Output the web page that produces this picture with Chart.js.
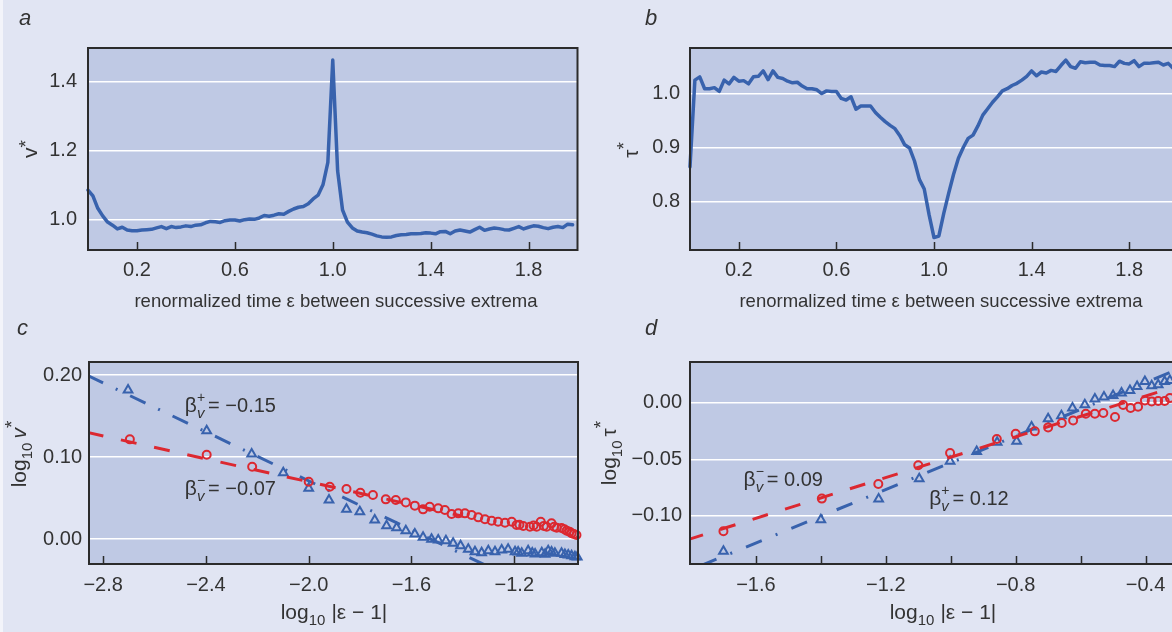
<!DOCTYPE html>
<html>
<head>
<meta charset="utf-8">
<script src="https://cdn.jsdelivr.net/npm/chart.js@4.4.1/dist/chart.umd.min.js"></script>
<style>
  html, body { margin: 0; padding: 0; background: #ffffff; }
  #page { position: relative; width: 1172px; height: 632px; overflow: hidden; background: #e1e5f3; }
  #edge { position: absolute; left: 0; top: 0; width: 3px; height: 632px; background: #f3f4fa; }
  canvas { position: absolute; }
</style>
</head>
<body>
<div id="page">
  <canvas id="chartA" width="586" height="316" style="left:0;top:0"></canvas>
  <canvas id="chartB" width="600" height="316" style="left:586px;top:0"></canvas>
  <canvas id="chartC" width="586" height="316" style="left:0;top:316px"></canvas>
  <canvas id="chartD" width="600" height="316" style="left:586px;top:316px"></canvas>
  <div id="edge"></div>
</div>
<script>
// renormalized time between successive extrema (panels a and b)
const eps = [
  0.00, 0.02, 0.04, 0.06, 0.08, 0.10, 0.12, 0.14, 0.16, 0.18,
  0.20, 0.22, 0.24, 0.26, 0.28, 0.30, 0.32, 0.34, 0.36, 0.38,
  0.40, 0.42, 0.44, 0.46, 0.48, 0.50, 0.52, 0.54, 0.56, 0.58,
  0.60, 0.62, 0.64, 0.66, 0.68, 0.70, 0.72, 0.74, 0.76, 0.78,
  0.80, 0.82, 0.84, 0.86, 0.88, 0.90, 0.92, 0.94, 0.96, 0.98,
  1.00, 1.02, 1.04, 1.06, 1.08, 1.10, 1.12, 1.14, 1.16, 1.18,
  1.20, 1.22, 1.24, 1.26, 1.28, 1.30, 1.32, 1.34, 1.36, 1.38,
  1.40, 1.42, 1.44, 1.46, 1.48, 1.50, 1.52, 1.54, 1.56, 1.58,
  1.60, 1.62, 1.64, 1.66, 1.68, 1.70, 1.72, 1.74, 1.76, 1.78,
  1.80, 1.82, 1.84, 1.86, 1.88, 1.90, 1.92, 1.94, 1.96, 1.98
];
// panel a: v*
const vStar = [
  1.085, 1.068, 1.032, 1.010, 0.992, 0.983, 0.972, 0.977, 0.969, 0.967,
  0.967, 0.969, 0.970, 0.971, 0.975, 0.979, 0.973, 0.979, 0.976, 0.978,
  0.981, 0.979, 0.983, 0.984, 0.990, 0.994, 0.993, 0.991, 0.996, 0.998,
  0.998, 0.995, 0.999, 1.001, 1.000, 1.004, 1.011, 1.009, 1.012, 1.016,
  1.015, 1.023, 1.030, 1.035, 1.037, 1.045, 1.059, 1.070, 1.100, 1.165,
  1.462, 1.140, 1.027, 0.992, 0.975, 0.966, 0.963, 0.961, 0.957, 0.952,
  0.949, 0.948, 0.949, 0.953, 0.955, 0.956, 0.958, 0.958, 0.959, 0.961,
  0.960, 0.958, 0.964, 0.965, 0.958, 0.966, 0.969, 0.966, 0.963, 0.970,
  0.977, 0.968, 0.972, 0.975, 0.973, 0.970, 0.969, 0.974, 0.979, 0.972,
  0.977, 0.981, 0.980, 0.976, 0.973, 0.977, 0.979, 0.976, 0.986, 0.984
];
// panel b: tau*
const tauStar = [
  0.864, 1.025, 1.031, 1.009, 1.009, 1.011, 1.004, 1.025, 1.018, 1.030,
  1.023, 1.024, 1.018, 1.031, 1.032, 1.042, 1.026, 1.042, 1.030, 1.028,
  1.023, 1.020, 1.021, 1.014, 1.009, 1.009, 1.007, 1.000, 1.005, 1.004,
  1.004, 0.991, 0.988, 0.994, 0.971, 0.977, 0.977, 0.977, 0.965, 0.956,
  0.948, 0.941, 0.935, 0.922, 0.905, 0.899, 0.875, 0.841, 0.823, 0.775,
  0.733, 0.736, 0.778, 0.815, 0.850, 0.880, 0.900, 0.917, 0.923, 0.940,
  0.960, 0.972, 0.984, 0.994, 1.005, 1.009, 1.015, 1.019, 1.025, 1.032,
  1.042, 1.033, 1.040, 1.038, 1.043, 1.041, 1.052, 1.062, 1.050, 1.047,
  1.059, 1.057, 1.058, 1.058, 1.053, 1.052, 1.052, 1.050, 1.060, 1.056,
  1.055, 1.061, 1.050, 1.056, 1.056, 1.057, 1.058, 1.053, 1.056, 1.047
];

// panel c: log10 v* against log10|eps-1|
const cMinusX = [-2.696, -2.397, -2.220, -2.000, -1.918, -1.853, -1.799, -1.750, -1.700, -1.661,
  -1.622, -1.587, -1.555, -1.529, -1.496, -1.470, -1.444, -1.418, -1.392, -1.366,
  -1.340, -1.314, -1.288, -1.263, -1.236, -1.210, -1.191, -1.180, -1.165, -1.139,
  -1.125, -1.113, -1.097, -1.085, -1.074, -1.055, -1.045, -1.035, -1.016, -1.005,
  -0.996, -0.985, -0.977, -0.968, -0.958];
const cMinusY = [0.1216, 0.1028, 0.0882, 0.0699, 0.0638, 0.0610, 0.0565, 0.0537, 0.0484, 0.0476,
  0.0447, 0.0407, 0.0362, 0.0394, 0.0374, 0.0354, 0.0305, 0.0313, 0.0313, 0.0293,
  0.0264, 0.0240, 0.0223, 0.0211, 0.0199, 0.0211, 0.0171, 0.0175, 0.0159, 0.0150,
  0.0165, 0.0150, 0.0211, 0.0160, 0.0150, 0.0191, 0.0150, 0.0138, 0.0134, 0.0120,
  0.0102, 0.0090, 0.0070, 0.0060, 0.0049];
const cPlusX = [-2.703, -2.397, -2.222, -2.099, -2.000, -1.921, -1.853, -1.801, -1.743, -1.697,
  -1.658, -1.622, -1.587, -1.555, -1.522, -1.496, -1.466, -1.438, -1.409, -1.379,
  -1.353, -1.327, -1.301, -1.275, -1.249, -1.224, -1.197, -1.185, -1.171, -1.146,
  -1.130, -1.119, -1.093, -1.080, -1.068, -1.055, -1.042, -1.016, -1.003, -0.990,
  -0.977, -0.964, -0.955];
const cPlusY = [0.1817, 0.1320, 0.1037, 0.0809, 0.0618, 0.0476, 0.0362, 0.0333, 0.0232, 0.0163,
  0.0138, 0.0102, 0.0061, 0.0021, -0.0004, -0.0012, -0.0020, -0.0053, -0.0081, -0.0126,
  -0.0155, -0.0167, -0.0142, -0.0155, -0.0134, -0.0126, -0.0155, -0.0160, -0.0175, -0.0142,
  -0.0170, -0.0183, -0.0167, -0.0185, -0.0142, -0.0160, -0.0175, -0.0175, -0.0190, -0.0195,
  -0.0205, -0.0216, -0.0220];
const cFitMinusX = [-2.86, -1.40];
const cFitMinusY = [0.1300, 0.0278];
const cFitPlusX = [-2.86, -1.30];
const cFitPlusY = [0.1995, -0.0338];

// panel d: log10 tau* against log10|eps-1|
const dMinusX = [-1.700, -1.397, -1.223, -1.100, -1.002, -0.858, -0.800, -0.741, -0.700, -0.658,
  -0.623, -0.584, -0.556, -0.530, -0.494, -0.469, -0.446, -0.423, -0.402, -0.381,
  -0.361, -0.341, -0.325];
const dMinusY = [-0.1136, -0.0847, -0.0718, -0.0553, -0.0444, -0.0320, -0.0274, -0.0253, -0.0218, -0.0179,
  -0.0156, -0.0097, -0.0097, -0.0091, -0.0126, -0.0020, -0.0047, -0.0035, 0.0020, 0.0012,
  0.0015, 0.0015, 0.0041];
const dPlusX = [-1.700, -1.400, -1.222, -1.097, -1.002, -0.920, -0.857, -0.797, -0.751, -0.700,
  -0.659, -0.625, -0.587, -0.556, -0.528, -0.500, -0.474, -0.448, -0.426, -0.402,
  -0.381, -0.361, -0.341, -0.325];
const dPlusY = [-0.1312, -0.1033, -0.0850, -0.0671, -0.0518, -0.0430, -0.0350, -0.0341, -0.0215, -0.0141,
  -0.0115, -0.0047, -0.0018, 0.0032, 0.0050, 0.0065, 0.0085, 0.0109, 0.0144, 0.0188,
  0.0150, 0.0159, 0.0188, 0.0197];
const dFitMinusX = [-1.81, -0.30];
const dFitMinusY = [-0.1210, 0.0149];
const dFitPlusX = [-1.77, -0.30];
const dFitPlusY = [-0.1440, 0.0296];

// ticks
const xTicksAB = [0.2, 0.6, 1.0, 1.4, 1.8];
const xLabelsAB = ['0.2', '0.6', '1.0', '1.4', '1.8'];
const yTicksA = [1.0, 1.2, 1.4];
const yLabelsA = ['1.0', '1.2', '1.4'];
const yTicksB = [0.8, 0.9, 1.0];
const yLabelsB = ['0.8', '0.9', '1.0'];
const xTicksC = [-2.8, -2.4, -2.0, -1.6, -1.2];
const xLabelsC = ['\u22122.8', '\u22122.4', '\u22122.0', '\u22121.6', '\u22121.2'];
const yTicksC = [0.0, 0.1, 0.2];
const yLabelsC = ['0.00', '0.10', '0.20'];
const xTicksD = [-1.6, -1.4, -1.2, -1.0, -0.8, -0.6, -0.4];
const xLabelsD = ['\u22121.6', '', '\u22121.2', '', '\u22120.8', '', '\u22120.4'];
const yTicksD = [-0.10, -0.05, 0.0];
const yLabelsD = ['\u22120.10', '\u22120.05', '0.00'];

const BLUE = '#3862ad';
const RED = '#dc2830';
const PLOT_BG = '#bfc9e4';
const FRAME = '#2b2b2b';
const TEXT = '#333333';
const SANS = '"Liberation Sans", Arial, sans-serif';

const pts = (xs, ys) => xs.map((x, i) => ({ x: x, y: ys[i] }));

// rich text helpers (sub/superscripts)
function fontOf(s) {
  return (s.it ? 'italic ' : '') + (s.size || 20) + 'px ' + SANS;
}
function segWidth(ctx, s) {
  if (s.stack) return Math.max(...s.stack.map(p => segWidth(ctx, p))) + (s.gap || 0);
  ctx.font = fontOf(s);
  return ctx.measureText(s.t).width + (s.gap || 0);
}
function drawSeg(ctx, s, x, y) {
  if (s.stack) { s.stack.forEach(p => drawSeg(ctx, p, x, y)); return; }
  ctx.font = fontOf(s);
  ctx.fillText(s.t, x, y + (s.dy || 0));
}
function drawRich(ctx, segs, x, y, align) {
  const w = segs.map(s => segWidth(ctx, s));
  const total = w.reduce((a, b) => a + b, 0);
  let cx = align === 'center' ? x - total / 2 : x;
  segs.forEach((s, i) => { drawSeg(ctx, s, cx, y); cx += w[i]; });
}

const beta = (sign, value) => [
  { t: '\u03b2', size: 21 },
  { stack: [{ t: sign, size: 14, dy: -10 }, { t: 'v', size: 15, it: true, dy: 6 }], gap: 3 },
  { t: '= ' + value, size: 20 }
];
const xTitleEps = [{ t: 'renormalized time \u03b5 between successive extrema', size: 18.5 }];
const xTitleLog = [
  { t: 'log', size: 21 },
  { t: '10', size: 15, dy: 6, gap: 6 },
  { t: '|\u03b5 \u2212 1|', size: 21 }
];

const decor = {
  chartA: {
    letter: { t: 'a', x: 19, y: 25 },
    xTitle: { segs: xTitleEps, x: 336, y: 307 },
    yTitle: { segs: [{ t: 'v', size: 21 }, { t: '*', size: 19, dy: -5 }], x: 37, y: 149 },
    notes: []
  },
  chartB: {
    letter: { t: 'b', x: 59, y: 25 },
    xTitle: { segs: xTitleEps, x: 355, y: 307 },
    yTitle: { segs: [{ t: '\u03c4', size: 21 }, { t: '*', size: 19, dy: -8 }], x: 52, y: 150 },
    notes: []
  },
  chartC: {
    letter: { t: 'c', x: 17, y: 19 },
    xTitle: { segs: xTitleLog, x: 334, y: 303 },
    yTitle: { segs: [
      { t: 'log', size: 21 },
      { t: '10', size: 15, dy: 6, gap: 4 },
      { t: 'v', size: 21, it: true },
      { t: '*', size: 19, dy: -8 }
    ], x: 26, y: 138 },
    notes: [
      { segs: beta('+', '\u22120.15'), x: -2.482, y: 0.155 },
      { segs: beta('\u2212', '\u22120.07'), x: -2.482, y: 0.0537 }
    ]
  },
  chartD: {
    letter: { t: 'd', x: 59, y: 19 },
    xTitle: { segs: xTitleLog, x: 357, y: 303 },
    yTitle: { segs: [
      { t: 'log', size: 21 },
      { t: '10', size: 15, dy: 6, gap: 4 },
      { t: '\u03c4', size: 21 },
      { t: '*', size: 19, dy: -9 }
    ], x: 30, y: 137 },
    notes: [
      { segs: beta('\u2212', '0.09'), x: -1.638, y: -0.0739 },
      { segs: beta('+', '0.12'), x: -1.066, y: -0.090 }
    ]
  }
};

const panelDecor = {
  id: 'panelDecor',
  beforeDraw(chart) {
    const { ctx, chartArea: a } = chart;
    ctx.save();
    ctx.fillStyle = PLOT_BG;
    ctx.fillRect(a.left, a.top, a.right - a.left, a.bottom - a.top);
    ctx.restore();
  },
  afterDraw(chart) {
    const { ctx, chartArea: a, scales } = chart;
    const d = decor[chart.canvas.id];
    ctx.save();
    ctx.strokeStyle = FRAME;
    ctx.lineWidth = 2;
    ctx.strokeRect(a.left, a.top, a.right - a.left, a.bottom - a.top);
    // inward tick marks on the bottom axis
    ctx.lineWidth = 1.5;
    scales.x.ticks.forEach(t => {
      const px = Math.round(scales.x.getPixelForValue(t.value)) + 0.5;
      ctx.beginPath();
      ctx.moveTo(px, a.bottom);
      ctx.lineTo(px, a.bottom - 8);
      ctx.stroke();
    });
    ctx.fillStyle = TEXT;
    ctx.textAlign = 'left';
    ctx.textBaseline = 'alphabetic';
    ctx.font = 'italic 22px ' + SANS;
    ctx.fillText(d.letter.t, d.letter.x, d.letter.y);
    drawRich(ctx, d.xTitle.segs, d.xTitle.x, d.xTitle.y, 'center');
    ctx.save();
    ctx.translate(d.yTitle.x, d.yTitle.y);
    ctx.rotate(-Math.PI / 2);
    drawRich(ctx, d.yTitle.segs, 0, 0, 'center');
    ctx.restore();
    d.notes.forEach(n => {
      drawRich(ctx, n.segs, scales.x.getPixelForValue(n.x), scales.y.getPixelForValue(n.y), 'left');
    });
    ctx.restore();
  }
};

function panel(id, o) {
  return new Chart(document.getElementById(id), {
    type: 'scatter',
    data: { datasets: o.datasets },
    options: {
      responsive: false,
      animation: false,
      devicePixelRatio: 1,
      layout: { padding: { left: 0, top: o.top, right: o.right, bottom: 0 } },
      plugins: { legend: { display: false }, tooltip: { enabled: false } },
      elements: { line: { tension: 0 } },
      scales: {
        x: {
          type: 'linear', min: o.xMin, max: o.xMax,
          grid: { display: false, drawTicks: false },
          border: { display: false },
          afterBuildTicks: s => { s.ticks = o.xTicks.map(v => ({ value: v })); },
          afterFit: s => { s.height = o.xHeight; },
          ticks: {
            autoSkip: false, maxRotation: 0, padding: o.xPad, color: TEXT,
            font: { family: SANS, size: 20 },
            callback: (v, i) => o.xLabels[i]
          }
        },
        y: {
          type: 'linear', min: o.yMin, max: o.yMax,
          grid: { color: '#ffffff', lineWidth: 1.5, drawTicks: false },
          border: { display: false },
          afterBuildTicks: s => { s.ticks = o.yTicks.map(v => ({ value: v })); },
          afterFit: s => { s.width = o.yWidth; },
          ticks: {
            padding: o.yPad, color: TEXT,
            font: { family: SANS, size: 20 },
            callback: (v, i) => o.yLabels[i]
          }
        }
      }
    },
    plugins: [panelDecor]
  });
}

const curve = (data) => ({
  data: data, showLine: true, pointRadius: 0, borderColor: BLUE, borderWidth: 3.5,
  borderJoinStyle: 'round', borderCapStyle: 'round', clip: 2
});
const fit = (data, color, dash) => ({
  data: data, showLine: true, pointRadius: 0, borderColor: color, borderWidth: 3,
  borderDash: dash, borderCapStyle: 'butt', clip: 0
});
const marks = (data, color, style, r) => ({
  data: data, showLine: false, pointStyle: style, pointRadius: r,
  pointBorderWidth: 2, pointBorderColor: color, pointBackgroundColor: 'rgba(0,0,0,0)', clip: 6
});

panel('chartA', {
  datasets: [curve(pts(eps, vStar))],
  xMin: 0, xMax: 2, yMin: 0.911, yMax: 1.497,
  xTicks: xTicksAB, xLabels: xLabelsAB, yTicks: yTicksA, yLabels: yLabelsA,
  top: 48, right: 8.5, xHeight: 66, yWidth: 88, xPad: 8, yPad: 11
});
panel('chartB', {
  datasets: [curve(pts(eps, tauStar))],
  xMin: 0, xMax: 2, yMin: 0.71, yMax: 1.0845,
  xTicks: xTicksAB, xLabels: xLabelsAB, yTicks: yTicksB, yLabels: yLabelsB,
  top: 48, right: 8, xHeight: 66, yWidth: 104, xPad: 8, yPad: 10
});
panel('chartC', {
  datasets: [
    marks(pts(cMinusX, cMinusY), RED, 'circle', 4),
    fit(pts(cFitMinusX, cFitMinusY), RED, [16, 18]),
    marks(pts(cPlusX, cPlusY), BLUE, 'triangle', 5),
    fit(pts(cFitPlusX, cFitPlusY), BLUE, [17, 14, 2, 14])
  ],
  xMin: -2.855, xMax: -0.952, yMin: -0.0305, yMax: 0.216,
  xTicks: xTicksC, xLabels: xLabelsC, yTicks: yTicksC, yLabels: yLabelsC,
  top: 46, right: 8, xHeight: 68, yWidth: 89, xPad: 9, yPad: 7
});
panel('chartD', {
  datasets: [
    marks(pts(dMinusX, dMinusY), RED, 'circle', 4),
    fit(pts(dFitMinusX, dFitMinusY), RED, [16, 18]),
    marks(pts(dPlusX, dPlusY), BLUE, 'triangle', 5),
    fit(pts(dFitPlusX, dFitPlusY), BLUE, [17, 15, 2, 15])
  ],
  xMin: -1.803, xMax: -0.30, yMin: -0.1425, yMax: 0.036,
  xTicks: xTicksD, xLabels: xLabelsD, yTicks: yTicksD, yLabels: yLabelsD,
  top: 46, right: 8, xHeight: 68, yWidth: 104, xPad: 9, yPad: 8
});
</script>
</body>
</html>
